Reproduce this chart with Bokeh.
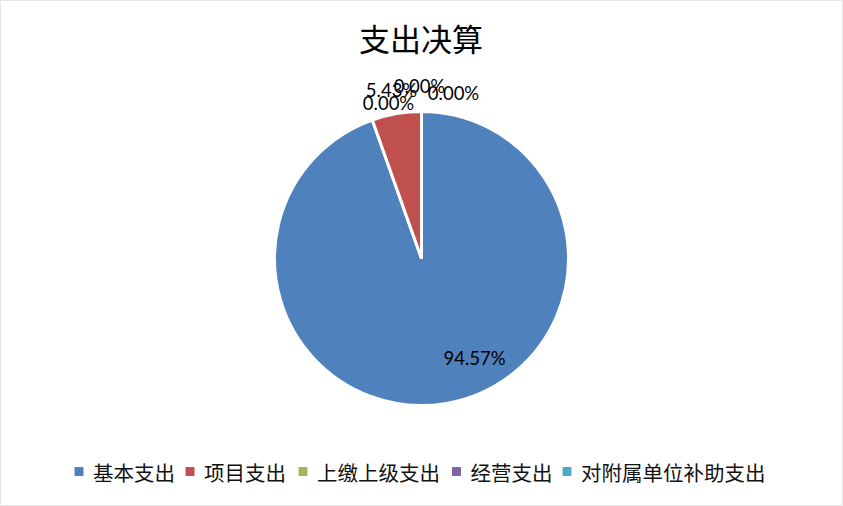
import math
from bokeh.plotting import figure
from bokeh.models import Range1d, ColumnDataSource
from bokeh.core.properties import value
from bokeh.embed import file_html
from bokeh.resources import INLINE

# ---- data ----
categories = ["基本支出", "项目支出", "上缴上级支出", "经营支出", "对附属单位补助支出"]
shares = [94.57, 5.43, 0.00, 0.00, 0.00]
colors = ["#4F81BD", "#C0504D", "#9BBB59", "#8064A2", "#4BACC6"]
title_text = "支出决算"

# ---- layout (pixels, image coordinates: y downward) ----
W, H = 843, 506
CX, CY, R = 421, 258, 147
# label centers (image coords) as placed by the original layout
label_pos = [(474, 357), (391, 89), (419, 85), (453, 92), (388, 102)]
legend_sq_x = [78.5, 189.5, 302.5, 456.0, 566.5]
legend_y = 471

def fy(y):
    return H - y

p = figure(width=W, height=H, output_backend="svg", toolbar_location=None,
           x_range=Range1d(0, W), y_range=Range1d(0, H),
           min_border=0, min_border_left=0, min_border_right=0,
           min_border_top=0, min_border_bottom=0)
p.axis.visible = False
p.grid.visible = False
p.outline_line_color = "#E6E6E6"
p.background_fill_color = "white"
p.border_fill_color = "white"

# wedges (clockwise from 12 o'clock)
total = sum(shares)
starts, ends = [], []
cum = 0.0
for s in shares:
    a0 = math.pi / 2 - 2 * math.pi * cum / total
    cum += s
    a1 = math.pi / 2 - 2 * math.pi * cum / total
    starts.append(a0)
    ends.append(a1)

idx = [i for i, s in enumerate(shares) if s > 0]
wsrc = ColumnDataSource(dict(
    start=[starts[i] for i in idx], end=[ends[i] for i in idx],
    color=[colors[i] for i in idx]))
p.wedge(x=CX, y=fy(CY), radius=R, start_angle="start", end_angle="end",
        direction="clock", fill_color="color", line_color="white",
        line_width=3, source=wsrc)

# data labels
lsrc = ColumnDataSource(dict(
    x=[lp[0] for lp in label_pos], y=[fy(lp[1]) for lp in label_pos],
    t=["%.2f%%" % s for s in shares]))
p.text(x="x", y="y", text="t", source=lsrc, text_align="center",
       text_baseline="middle", text_font=value("Lato"),
       text_font_size="18.5px", text_color="black")

# title
p.text(x=[W / 2 - 1], y=[fy(37)], text=[title_text], text_align="center",
       text_baseline="middle", text_font=value("Noto Sans CJK SC"),
       text_font_size="31px", text_color="black")

# legend
gsrc = ColumnDataSource(dict(
    x=legend_sq_x, y=[fy(legend_y)] * len(categories), c=colors,
    tx=[x + 14 for x in legend_sq_x], t=categories))
p.scatter(x="x", y="y", marker="square", size=8, fill_color="c",
          line_color="c", source=gsrc)
p.text(x="tx", y="y", text="t", source=gsrc, text_align="left",
       text_baseline="middle", text_font=value("Noto Sans CJK SC"),
       text_font_size="20.5px", text_color="#111111")

open("out.html", "w").write(file_html(p, INLINE))
